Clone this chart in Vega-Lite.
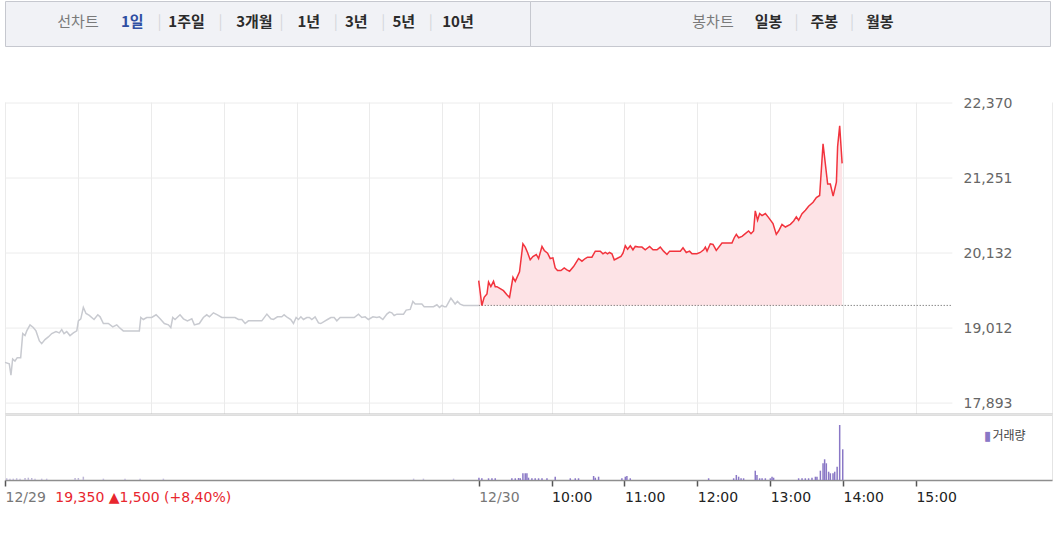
{
  "$schema": "https://vega.github.io/schema/vega-lite/v6.json",
  "padding": {"left": 2, "top": 0, "right": 0, "bottom": 0},
  "background": "white",
  "config": {"view": {"stroke": null}, "font": "DejaVu Sans"},
  "datasets": {
    "tabsL": [
      {"tab": "선차트", "text": "선차트", "kind": "title"},
      {"tab": "1일", "text": "1일", "kind": "active"},
      {"tab": "|a", "text": "|", "kind": "sep"},
      {"tab": "1주일", "text": "1주일", "kind": "tab"},
      {"tab": "|b", "text": "|", "kind": "sep"},
      {"tab": "3개월", "text": "3개월", "kind": "tab"},
      {"tab": "|c", "text": "|", "kind": "sep"},
      {"tab": "1년", "text": "1년", "kind": "tab"},
      {"tab": "|d", "text": "|", "kind": "sep"},
      {"tab": "3년", "text": "3년", "kind": "tab"},
      {"tab": "|e", "text": "|", "kind": "sep"},
      {"tab": "5년", "text": "5년", "kind": "tab"},
      {"tab": "|f", "text": "|", "kind": "sep"},
      {"tab": "10년", "text": "10년", "kind": "tab"}
    ],
    "tabsR": [
      {"tab": "봉차트", "text": "봉차트", "kind": "title"},
      {"tab": "일봉", "text": "일봉", "kind": "tab"},
      {"tab": "|g", "text": "|", "kind": "sep"},
      {"tab": "주봉", "text": "주봉", "kind": "tab"},
      {"tab": "|h", "text": "|", "kind": "sep"},
      {"tab": "월봉", "text": "월봉", "kind": "tab"}
    ],
    "levels": [{"level": 17893}, {"level": 19012}, {"level": 20132}, {"level": 21251}, {"level": 22370}],
    "price": [
      {"day": "12/29", "m": 0, "price": 18500}, {"day": "12/29", "m": 3.5, "price": 18480}, {"day": "12/29", "m": 4.9, "price": 18310}, {"day": "12/29", "m": 6.3, "price": 18550}, {"day": "12/29", "m": 8.2, "price": 18520}, {"day": "12/29", "m": 10.1, "price": 18570}, {"day": "12/29", "m": 12.9, "price": 18570}, {"day": "12/29", "m": 14.6, "price": 18930}, {"day": "12/29", "m": 16.5, "price": 18900}, {"day": "12/29", "m": 17.9, "price": 18970}, {"day": "12/29", "m": 20.6, "price": 19060}, {"day": "12/29", "m": 23.3, "price": 19020}, {"day": "12/29", "m": 25.5, "price": 18970}, {"day": "12/29", "m": 28.3, "price": 18820}, {"day": "12/29", "m": 30.2, "price": 18780}, {"day": "12/29", "m": 32.9, "price": 18840}, {"day": "12/29", "m": 35.7, "price": 18880}, {"day": "12/29", "m": 38.5, "price": 18930}, {"day": "12/29", "m": 42.0, "price": 18960}, {"day": "12/29", "m": 44.7, "price": 18940}, {"day": "12/29", "m": 46.7, "price": 18990}, {"day": "12/29", "m": 48.6, "price": 18930}, {"day": "12/29", "m": 50.8, "price": 18960}, {"day": "12/29", "m": 53.5, "price": 18900}, {"day": "12/29", "m": 56.3, "price": 18940}, {"day": "12/29", "m": 59.1, "price": 18970}, {"day": "12/29", "m": 60.4, "price": 19120}, {"day": "12/29", "m": 62.4, "price": 19150}, {"day": "12/29", "m": 64.5, "price": 19320}, {"day": "12/29", "m": 66.7, "price": 19230}, {"day": "12/29", "m": 69.4, "price": 19200}, {"day": "12/29", "m": 73.3, "price": 19140}, {"day": "12/29", "m": 76.4, "price": 19210}, {"day": "12/29", "m": 78.3, "price": 19180}, {"day": "12/29", "m": 81.0, "price": 19080}, {"day": "12/29", "m": 85.1, "price": 19080}, {"day": "12/29", "m": 88.7, "price": 19030}, {"day": "12/29", "m": 92.0, "price": 19060}, {"day": "12/29", "m": 94.1, "price": 19020}, {"day": "12/29", "m": 97.4, "price": 18970}, {"day": "12/29", "m": 110.6, "price": 18970}, {"day": "12/29", "m": 111.8, "price": 19170}, {"day": "12/29", "m": 113.9, "price": 19140}, {"day": "12/29", "m": 116.7, "price": 19170}, {"day": "12/29", "m": 120.8, "price": 19170}, {"day": "12/29", "m": 124.4, "price": 19210}, {"day": "12/29", "m": 127.7, "price": 19150}, {"day": "12/29", "m": 131.2, "price": 19080}, {"day": "12/29", "m": 134.5, "price": 19060}, {"day": "12/29", "m": 136.5, "price": 19020}, {"day": "12/29", "m": 138.1, "price": 19170}, {"day": "12/29", "m": 140.0, "price": 19140}, {"day": "12/29", "m": 144.1, "price": 19210}, {"day": "12/29", "m": 146.9, "price": 19150}, {"day": "12/29", "m": 150.2, "price": 19120}, {"day": "12/29", "m": 153.8, "price": 19150}, {"day": "12/29", "m": 155.9, "price": 19060}, {"day": "12/29", "m": 160.0, "price": 19080}, {"day": "12/29", "m": 163.3, "price": 19170}, {"day": "12/29", "m": 166.1, "price": 19210}, {"day": "12/29", "m": 168.3, "price": 19180}, {"day": "12/29", "m": 171.6, "price": 19240}, {"day": "12/29", "m": 174.9, "price": 19210}, {"day": "12/29", "m": 178.5, "price": 19170}, {"day": "12/29", "m": 189.4, "price": 19170}, {"day": "12/29", "m": 192.2, "price": 19140}, {"day": "12/29", "m": 195.0, "price": 19140}, {"day": "12/29", "m": 197.7, "price": 19080}, {"day": "12/29", "m": 200.4, "price": 19120}, {"day": "12/29", "m": 211.4, "price": 19120}, {"day": "12/29", "m": 215.6, "price": 19220}, {"day": "12/29", "m": 218.9, "price": 19150}, {"day": "12/29", "m": 221.0, "price": 19140}, {"day": "12/29", "m": 224.3, "price": 19180}, {"day": "12/29", "m": 227.9, "price": 19180}, {"day": "12/29", "m": 229.8, "price": 19210}, {"day": "12/29", "m": 232.5, "price": 19170}, {"day": "12/29", "m": 235.3, "price": 19140}, {"day": "12/29", "m": 237.5, "price": 19080}, {"day": "12/29", "m": 239.7, "price": 19170}, {"day": "12/29", "m": 241.6, "price": 19140}, {"day": "12/29", "m": 243.6, "price": 19180}, {"day": "12/29", "m": 245.7, "price": 19140}, {"day": "12/29", "m": 248.5, "price": 19170}, {"day": "12/29", "m": 250.6, "price": 19170}, {"day": "12/29", "m": 252.6, "price": 19140}, {"day": "12/29", "m": 255.3, "price": 19180}, {"day": "12/29", "m": 258.1, "price": 19090}, {"day": "12/29", "m": 260.0, "price": 19080}, {"day": "12/29", "m": 263.6, "price": 19120}, {"day": "12/29", "m": 265.5, "price": 19140}, {"day": "12/29", "m": 268.3, "price": 19170}, {"day": "12/29", "m": 271.0, "price": 19170}, {"day": "12/29", "m": 273.2, "price": 19120}, {"day": "12/29", "m": 275.9, "price": 19170}, {"day": "12/29", "m": 281.9, "price": 19170}, {"day": "12/29", "m": 287.5, "price": 19170}, {"day": "12/29", "m": 291.0, "price": 19220}, {"day": "12/29", "m": 293.8, "price": 19170}, {"day": "12/29", "m": 296.5, "price": 19180}, {"day": "12/29", "m": 299.2, "price": 19140}, {"day": "12/29", "m": 302.9, "price": 19180}, {"day": "12/29", "m": 306.2, "price": 19170}, {"day": "12/29", "m": 308.3, "price": 19180}, {"day": "12/29", "m": 311.1, "price": 19140}, {"day": "12/29", "m": 314.4, "price": 19220}, {"day": "12/29", "m": 316.5, "price": 19250}, {"day": "12/29", "m": 318.5, "price": 19240}, {"day": "12/29", "m": 320.4, "price": 19200}, {"day": "12/29", "m": 322.6, "price": 19220}, {"day": "12/29", "m": 328.1, "price": 19220}, {"day": "12/29", "m": 330.3, "price": 19280}, {"day": "12/29", "m": 333.6, "price": 19290}, {"day": "12/29", "m": 335.8, "price": 19410}, {"day": "12/29", "m": 337.7, "price": 19370}, {"day": "12/29", "m": 343.2, "price": 19370}, {"day": "12/29", "m": 345.1, "price": 19330}, {"day": "12/29", "m": 352.8, "price": 19330}, {"day": "12/29", "m": 355.6, "price": 19360}, {"day": "12/29", "m": 357.7, "price": 19320}, {"day": "12/29", "m": 359.7, "price": 19350}, {"day": "12/29", "m": 361.6, "price": 19330}, {"day": "12/29", "m": 363.2, "price": 19330}, {"day": "12/29", "m": 367.1, "price": 19460}, {"day": "12/29", "m": 368.7, "price": 19420}, {"day": "12/29", "m": 370.6, "price": 19370}, {"day": "12/29", "m": 372.5, "price": 19410}, {"day": "12/29", "m": 374.7, "price": 19370}, {"day": "12/29", "m": 377.5, "price": 19350}, {"day": "12/29", "m": 390, "price": 19350},
      {"day": "12/30", "m": 390, "price": 19720}, {"day": "12/30", "m": 392.6, "price": 19350}, {"day": "12/30", "m": 394.5, "price": 19470}, {"day": "12/30", "m": 396.8, "price": 19520}, {"day": "12/30", "m": 398.1, "price": 19700}, {"day": "12/30", "m": 400.0, "price": 19630}, {"day": "12/30", "m": 402.2, "price": 19710}, {"day": "12/30", "m": 403.6, "price": 19630}, {"day": "12/30", "m": 405.0, "price": 19630}, {"day": "12/30", "m": 407.7, "price": 19600}, {"day": "12/30", "m": 410.4, "price": 19570}, {"day": "12/30", "m": 413.2, "price": 19510}, {"day": "12/30", "m": 415.4, "price": 19470}, {"day": "12/30", "m": 418.2, "price": 19770}, {"day": "12/30", "m": 420.1, "price": 19710}, {"day": "12/30", "m": 423.6, "price": 19850}, {"day": "12/30", "m": 426.4, "price": 20270}, {"day": "12/30", "m": 428.3, "price": 20220}, {"day": "12/30", "m": 430.2, "price": 20140}, {"day": "12/30", "m": 432.4, "price": 20030}, {"day": "12/30", "m": 434.6, "price": 20080}, {"day": "12/30", "m": 437.4, "price": 20110}, {"day": "12/30", "m": 439.3, "price": 20050}, {"day": "12/30", "m": 442.1, "price": 20230}, {"day": "12/30", "m": 444.0, "price": 20170}, {"day": "12/30", "m": 446.7, "price": 20130}, {"day": "12/30", "m": 448.9, "price": 20050}, {"day": "12/30", "m": 451.1, "price": 20060}, {"day": "12/30", "m": 453.0, "price": 19910}, {"day": "12/30", "m": 454.9, "price": 19870}, {"day": "12/30", "m": 457.7, "price": 19870}, {"day": "12/30", "m": 460.4, "price": 19910}, {"day": "12/30", "m": 462.6, "price": 19880}, {"day": "12/30", "m": 464.8, "price": 19860}, {"day": "12/30", "m": 468.1, "price": 19930}, {"day": "12/30", "m": 472.2, "price": 20050}, {"day": "12/30", "m": 475.0, "price": 20010}, {"day": "12/30", "m": 477.7, "price": 20050}, {"day": "12/30", "m": 479.6, "price": 20070}, {"day": "12/30", "m": 483.2, "price": 20070}, {"day": "12/30", "m": 486.0, "price": 20160}, {"day": "12/30", "m": 490.1, "price": 20160}, {"day": "12/30", "m": 492.3, "price": 20120}, {"day": "12/30", "m": 494.2, "price": 20140}, {"day": "12/30", "m": 496.1, "price": 20120}, {"day": "12/30", "m": 497.7, "price": 20140}, {"day": "12/30", "m": 499.7, "price": 20120}, {"day": "12/30", "m": 501.6, "price": 20030}, {"day": "12/30", "m": 503.8, "price": 20050}, {"day": "12/30", "m": 507.1, "price": 20080}, {"day": "12/30", "m": 508.8, "price": 20130}, {"day": "12/30", "m": 510.7, "price": 20240}, {"day": "12/30", "m": 512.6, "price": 20190}, {"day": "12/30", "m": 514.8, "price": 20240}, {"day": "12/30", "m": 517.0, "price": 20180}, {"day": "12/30", "m": 518.9, "price": 20230}, {"day": "12/30", "m": 521.6, "price": 20220}, {"day": "12/30", "m": 524.4, "price": 20220}, {"day": "12/30", "m": 527.1, "price": 20180}, {"day": "12/30", "m": 530.7, "price": 20230}, {"day": "12/30", "m": 533.5, "price": 20180}, {"day": "12/30", "m": 536.8, "price": 20180}, {"day": "12/30", "m": 539.5, "price": 20220}, {"day": "12/30", "m": 542.2, "price": 20160}, {"day": "12/30", "m": 545.0, "price": 20110}, {"day": "12/30", "m": 547.2, "price": 20160}, {"day": "12/30", "m": 556.0, "price": 20160}, {"day": "12/30", "m": 558.2, "price": 20210}, {"day": "12/30", "m": 560.9, "price": 20140}, {"day": "12/30", "m": 563.6, "price": 20160}, {"day": "12/30", "m": 565.6, "price": 20120}, {"day": "12/30", "m": 569.7, "price": 20120}, {"day": "12/30", "m": 572.4, "price": 20140}, {"day": "12/30", "m": 575.2, "price": 20180}, {"day": "12/30", "m": 576.6, "price": 20220}, {"day": "12/30", "m": 578.0, "price": 20160}, {"day": "12/30", "m": 580.7, "price": 20270}, {"day": "12/30", "m": 582.9, "price": 20260}, {"day": "12/30", "m": 585.6, "price": 20170}, {"day": "12/30", "m": 590.3, "price": 20280}, {"day": "12/30", "m": 598.5, "price": 20280}, {"day": "12/30", "m": 600.4, "price": 20360}, {"day": "12/30", "m": 602.1, "price": 20410}, {"day": "12/30", "m": 604.0, "price": 20360}, {"day": "12/30", "m": 606.8, "price": 20380}, {"day": "12/30", "m": 609.5, "price": 20420}, {"day": "12/30", "m": 612.2, "price": 20460}, {"day": "12/30", "m": 614.2, "price": 20420}, {"day": "12/30", "m": 616.3, "price": 20460}, {"day": "12/30", "m": 617.7, "price": 20760}, {"day": "12/30", "m": 619.6, "price": 20620}, {"day": "12/30", "m": 621.3, "price": 20720}, {"day": "12/30", "m": 623.3, "price": 20690}, {"day": "12/30", "m": 626.0, "price": 20720}, {"day": "12/30", "m": 628.7, "price": 20660}, {"day": "12/30", "m": 632.3, "price": 20570}, {"day": "12/30", "m": 635.0, "price": 20410}, {"day": "12/30", "m": 636.9, "price": 20460}, {"day": "12/30", "m": 639.7, "price": 20560}, {"day": "12/30", "m": 642.5, "price": 20520}, {"day": "12/30", "m": 646.6, "price": 20560}, {"day": "12/30", "m": 649.3, "price": 20610}, {"day": "12/30", "m": 651.5, "price": 20670}, {"day": "12/30", "m": 653.4, "price": 20620}, {"day": "12/30", "m": 656.2, "price": 20720}, {"day": "12/30", "m": 659.0, "price": 20770}, {"day": "12/30", "m": 661.6, "price": 20830}, {"day": "12/30", "m": 665.3, "price": 20890}, {"day": "12/30", "m": 668.0, "price": 20960}, {"day": "12/30", "m": 670.7, "price": 20990}, {"day": "12/30", "m": 673.5, "price": 21760}, {"day": "12/30", "m": 677.3, "price": 21160}, {"day": "12/30", "m": 679.5, "price": 21160}, {"day": "12/30", "m": 681.8, "price": 20980}, {"day": "12/30", "m": 684.5, "price": 21190}, {"day": "12/30", "m": 685.5, "price": 21720}, {"day": "12/30", "m": 687.2, "price": 22030}, {"day": "12/30", "m": 689.2, "price": 21470}
    ],
    "volume": [
      {"day": "12/29", "m": 1.4, "vol": 1700}, {"day": "12/29", "m": 4.1, "vol": 1300}, {"day": "12/29", "m": 6.8, "vol": 1300}, {"day": "12/29", "m": 9.6, "vol": 1700}, {"day": "12/29", "m": 12.4, "vol": 1300}, {"day": "12/29", "m": 16.5, "vol": 2000}, {"day": "12/29", "m": 19.2, "vol": 2300}, {"day": "12/29", "m": 22.0, "vol": 2000}, {"day": "12/29", "m": 24.7, "vol": 1300}, {"day": "12/29", "m": 30.2, "vol": 1300}, {"day": "12/29", "m": 34.3, "vol": 1300}, {"day": "12/29", "m": 57.7, "vol": 2000}, {"day": "12/29", "m": 60.4, "vol": 2000}, {"day": "12/29", "m": 64.5, "vol": 3300}, {"day": "12/29", "m": 81.0, "vol": 1300}, {"day": "12/29", "m": 98.8, "vol": 1300}, {"day": "12/29", "m": 111.2, "vol": 1300}, {"day": "12/29", "m": 130.4, "vol": 1300}, {"day": "12/29", "m": 336.4, "vol": 1300}, {"day": "12/29", "m": 344.5, "vol": 1300}, {"day": "12/29", "m": 369.3, "vol": 1300},
      {"day": "12/30", "m": 390.2, "vol": 2300}, {"day": "12/30", "m": 392.6, "vol": 1700}, {"day": "12/30", "m": 398.1, "vol": 1700}, {"day": "12/30", "m": 400.9, "vol": 1700}, {"day": "12/30", "m": 403.6, "vol": 1700}, {"day": "12/30", "m": 417.3, "vol": 1700}, {"day": "12/30", "m": 420.1, "vol": 1700}, {"day": "12/30", "m": 422.8, "vol": 2000}, {"day": "12/30", "m": 424.2, "vol": 1700}, {"day": "12/30", "m": 426.4, "vol": 6700}, {"day": "12/30", "m": 428.3, "vol": 6700}, {"day": "12/30", "m": 429.7, "vol": 6700}, {"day": "12/30", "m": 431.0, "vol": 2300}, {"day": "12/30", "m": 433.8, "vol": 1700}, {"day": "12/30", "m": 436.5, "vol": 1700}, {"day": "12/30", "m": 439.3, "vol": 1700}, {"day": "12/30", "m": 442.1, "vol": 1700}, {"day": "12/30", "m": 446.2, "vol": 1700}, {"day": "12/30", "m": 453.0, "vol": 3300}, {"day": "12/30", "m": 465.4, "vol": 1700}, {"day": "12/30", "m": 469.5, "vol": 1700}, {"day": "12/30", "m": 472.2, "vol": 1700}, {"day": "12/30", "m": 484.6, "vol": 4000}, {"day": "12/30", "m": 486.0, "vol": 2300}, {"day": "12/30", "m": 488.7, "vol": 3300}, {"day": "12/30", "m": 507.9, "vol": 1700}, {"day": "12/30", "m": 510.7, "vol": 3300}, {"day": "12/30", "m": 512.0, "vol": 4000}, {"day": "12/30", "m": 514.8, "vol": 1700}, {"day": "12/30", "m": 579.3, "vol": 1700}, {"day": "12/30", "m": 599.9, "vol": 1700}, {"day": "12/30", "m": 602.1, "vol": 5000}, {"day": "12/30", "m": 604.0, "vol": 3300}, {"day": "12/30", "m": 606.0, "vol": 1700}, {"day": "12/30", "m": 608.1, "vol": 1700}, {"day": "12/30", "m": 617.7, "vol": 9300}, {"day": "12/30", "m": 619.1, "vol": 5000}, {"day": "12/30", "m": 621.3, "vol": 1700}, {"day": "12/30", "m": 623.3, "vol": 1700}, {"day": "12/30", "m": 626.0, "vol": 1700}, {"day": "12/30", "m": 630.1, "vol": 1700}, {"day": "12/30", "m": 631.5, "vol": 3300}, {"day": "12/30", "m": 632.8, "vol": 2300}, {"day": "12/30", "m": 653.4, "vol": 1700}, {"day": "12/30", "m": 656.2, "vol": 1700}, {"day": "12/30", "m": 658.9, "vol": 1700}, {"day": "12/30", "m": 661.6, "vol": 1700}, {"day": "12/30", "m": 664.4, "vol": 2300}, {"day": "12/30", "m": 667.2, "vol": 3300}, {"day": "12/30", "m": 668.5, "vol": 3300}, {"day": "12/30", "m": 671.3, "vol": 9300}, {"day": "12/30", "m": 673.5, "vol": 16700}, {"day": "12/30", "m": 674.8, "vol": 20700}, {"day": "12/30", "m": 676.2, "vol": 16700}, {"day": "12/30", "m": 678.1, "vol": 8300}, {"day": "12/30", "m": 679.5, "vol": 6700}, {"day": "12/30", "m": 681.7, "vol": 6700}, {"day": "12/30", "m": 683.1, "vol": 8300}, {"day": "12/30", "m": 685.1, "vol": 13300}, {"day": "12/30", "m": 687.2, "vol": 55000}, {"day": "12/30", "m": 689.7, "vol": 30700}
    ],
    "legend": [{"label": "거래량"}]
  },
  "spacing": 49,
  "resolve": {"scale": {"x": "independent", "y": "independent", "color": "independent"}},
  "vconcat": [
    {
      "spacing": 0,
      "bounds": "flush",
      "resolve": {"scale": {"x": "independent", "color": "independent"}},
      "hconcat": [
        {
          "width": 525,
          "height": 45,
          "view": {"fill": "#f1f2f6", "stroke": "#c6c8cf"},
          "data": {"name": "tabsL"},
          "encoding": {
            "x": {"field": "tab", "type": "nominal", "scale": {"type": "point", "padding": 0.685, "align": 0.555, "domain": ["_a0", "_a1", "_a2", "_a3", "_a4", "_a5", "_a6", "_a7", "_a8", "_a9", "선차트", "_s1", "_s2", "_s3", "_s4", "_s5", "_s6", "_s7", "1일", "_s9", "_s10", "_s11", "|a", "_s13", "_s14", "_s15", "1주일", "_s17", "_s18", "_s19", "_s20", "|b", "_s22", "_s23", "_s24", "_s25", "3개월", "_s27", "_s28", "_s29", "|c", "_s31", "_s32", "_s33", "1년", "_s35", "_s36", "_s37", "|d", "_s39", "_s40", "3년", "_s42", "_s43", "_s44", "|e", "_s46", "_s47", "5년", "_s49", "_s50", "_s51", "|f", "_s53", "_s54", "_s55", "10년", "_z0", "_z1", "_z2", "_z3", "_z4", "_z5", "_z6", "_z7", "_z8", "_z9"]}, "axis": null},
            "text": {"field": "text"},
            "color": {"field": "kind", "type": "nominal", "scale": {"domain": ["title", "active", "tab", "sep"], "range": ["#7a7a7a", "#2f4ea2", "#2b2b2b", "#d4d6db"]}, "legend": null}
          },
          "layer": [
            {
              "transform": [{"filter": "datum.kind == 'title' || datum.kind == 'sep'"}],
              "mark": {"type": "text", "font": "Noto Sans CJK KR", "fontSize": 15, "dy": -2}
            },
            {
              "transform": [{"filter": "datum.kind == 'active' || datum.kind == 'tab'"}],
              "mark": {"type": "text", "font": "Noto Sans CJK KR", "fontSize": 15, "fontWeight": "bold", "dy": -2}
            }
          ]
        },
        {
          "width": 520,
          "height": 45,
          "view": {"fill": "#f1f2f6", "stroke": "#c6c8cf"},
          "data": {"name": "tabsR"},
          "encoding": {
            "x": {"field": "tab", "type": "nominal", "scale": {"type": "point", "padding": 0.35, "align": 0.83, "domain": ["_a1", "_a2", "_a3", "_a4", "_a5", "_a6", "봉차트", "_gap", "일봉", "|g", "주봉", "|h", "월봉", "_b1", "_b2", "_b3", "_b4", "_b5", "_b6"]}, "axis": null},
            "text": {"field": "text"},
            "color": {"field": "kind", "type": "nominal", "scale": {"domain": ["title", "active", "tab", "sep"], "range": ["#7a7a7a", "#2f4ea2", "#2b2b2b", "#d4d6db"]}, "legend": null}
          },
          "layer": [
            {
              "transform": [{"filter": "datum.kind == 'title' || datum.kind == 'sep'"}],
              "mark": {"type": "text", "font": "Noto Sans CJK KR", "fontSize": 15, "dy": -2}
            },
            {
              "transform": [{"filter": "datum.kind == 'tab'"}],
              "mark": {"type": "text", "font": "Noto Sans CJK KR", "fontSize": 15, "fontWeight": "bold", "dy": -2}
            }
          ]
        }
      ]
    },
    {
      "spacing": 0,
      "bounds": "flush",
      "resolve": {"scale": {"y": "independent"}},
      "vconcat": [
        {
          "width": 1047,
          "height": 312,
          "layer": [
            {
              "data": {"name": "levels"},
              "mark": {"type": "rule", "color": "#ececec", "strokeWidth": 1},
              "encoding": {
                "x": {"datum": 0, "type": "quantitative", "scale": {"domain": [0, 862], "nice": false, "zero": false}},
                "x2": {"datum": 780},
                "y": {"field": "level", "type": "quantitative", "scale": {"domain": [17730, 22385], "nice": false, "zero": false}}
              }
            },
            {
              "data": {"name": "price"},
              "transform": [{"filter": "datum.day == '12/30'"}],
              "mark": {"type": "area", "color": "#fde3e6", "opacity": 1},
              "encoding": {
                "x": {"field": "m", "type": "quantitative", "scale": {"domain": [0, 862], "nice": false, "zero": false}},
                "y": {"field": "price", "type": "quantitative", "scale": {"domain": [17730, 22385], "nice": false, "zero": false}},
                "y2": {"datum": 19350}
              }
            },
            {
              "data": {"values": [{}]},
              "mark": {"type": "rule", "color": "#555555", "strokeDash": [1, 2], "strokeWidth": 1},
              "encoding": {
                "x": {"datum": 390, "type": "quantitative"},
                "x2": {"datum": 780},
                "y": {"datum": 19350, "type": "quantitative"}
              }
            },
            {
              "data": {"name": "price"},
              "transform": [{"filter": "datum.day == '12/29'"}],
              "mark": {"type": "line", "color": "#c8cad0", "strokeWidth": 1.5},
              "encoding": {
                "x": {
                  "field": "m", "type": "quantitative",
                  "scale": {"domain": [0, 862], "nice": false, "zero": false},
                  "axis": {"orient": "bottom", "values": [0, 60, 120, 180, 240, 300, 360, 390, 450, 510, 570, 630, 690, 750, 862], "grid": true, "gridColor": "#ebebeb", "labels": false, "ticks": false, "domain": true, "domainColor": "#bdbdbd", "domainWidth": 2, "title": null}
                },
                "y": {
                  "field": "price", "type": "quantitative",
                  "scale": {"domain": [17730, 22385], "nice": false, "zero": false},
                  "axis": {"orient": "right", "offset": -89, "values": [17893, 19012, 20132, 21251, 22370], "labelExpr": "format(datum.value, ',.0f')", "labelColor": "#666666", "labelFont": "DejaVu Sans", "labelFontSize": 14, "labelPadding": 0, "labelAlign": "left", "domain": false, "ticks": false, "tickSize": 0, "grid": false, "title": null}
                }
              }
            },
            {
              "data": {"name": "price"},
              "transform": [{"filter": "datum.day == '12/30'"}],
              "mark": {"type": "line", "color": "#f2333d", "strokeWidth": 1.5},
              "encoding": {
                "x": {"field": "m", "type": "quantitative", "scale": {"domain": [0, 862], "nice": false, "zero": false}},
                "y": {"field": "price", "type": "quantitative", "scale": {"domain": [17730, 22385], "nice": false, "zero": false}}
              }
            }
          ]
        },
        {
          "width": 1047,
          "height": 66,
          "view": {"stroke": "#e4e4e4"},
          "layer": [
            {
              "data": {"name": "volume"},
              "transform": [{"filter": "datum.day == '12/30'"}],
              "mark": {"type": "rule", "strokeWidth": 1.5, "color": "#8a78c6"},
              "encoding": {
                "x": {
                  "field": "m", "type": "quantitative",
                  "scale": {"domain": [0, 862], "nice": false, "zero": false},
                  "axis": {
                    "orient": "bottom",
                    "values": [0, 41, 390, 450, 510, 570, 630, 690, 750],
                    "labelExpr": "datum.value == 0 ? '12/29' : datum.value == 41 ? '19,350 ▲1,500 (+8,40%)' : datum.value == 390 ? '12/30' : (floor((datum.value - 390) / 60) + 9) + ':00'",
                    "labelAlign": "left",
                    "labelBaseline": "top",
                    "labelPadding": 4,
                    "labelFont": "DejaVu Sans",
                    "labelFontSize": 14,
                    "labelColor": {"condition": [{"test": "datum.value == 41", "value": "#e8262e"}, {"test": "datum.value == 0 || datum.value == 390", "value": "#777777"}], "value": "#222222"},
                    "tickColor": {"condition": {"test": "datum.value == 41", "value": "transparent"}, "value": "#555555"},
                    "tickSize": 6,
                    "tickWidth": 1.5,
                    "domainColor": "#8e8e8e",
                    "domainWidth": 1.5,
                    "grid": false,
                    "title": null,
                    "labelOverlap": false,
                    "labelFlush": false,
                    "labelBound": false
                  }
                },
                "y": {"field": "vol", "type": "quantitative", "scale": {"domain": [0, 66000], "nice": false, "zero": true}, "axis": null},
                "y2": {"datum": 0}
              }
            },
            {
              "data": {"name": "volume"},
              "transform": [{"filter": "datum.day == '12/29'"}],
              "mark": {"type": "rule", "strokeWidth": 1.5, "color": "#bdb6d6"},
              "encoding": {
                "x": {"field": "m", "type": "quantitative", "scale": {"domain": [0, 862], "nice": false, "zero": false}},
                "y": {"field": "vol", "type": "quantitative", "scale": {"domain": [0, 66000], "nice": false, "zero": true}, "axis": null},
                "y2": {"datum": 0}
              }
            },
            {
              "data": {"name": "legend"},
              "mark": {"type": "text", "text": "▮", "font": "DejaVu Sans", "fontSize": 13, "color": "#8a78c6", "align": "left"},
              "encoding": {
                "x": {"datum": 806, "type": "quantitative"},
                "y": {"datum": 44000, "type": "quantitative", "axis": null}
              }
            },
            {
              "data": {"name": "legend"},
              "mark": {"type": "text", "font": "Noto Sans CJK KR", "fontSize": 12, "color": "#444444", "align": "left"},
              "encoding": {
                "x": {"datum": 813, "type": "quantitative"},
                "y": {"datum": 44000, "type": "quantitative", "axis": null},
                "text": {"field": "label"}
              }
            }
          ]
        }
      ]
    }
  ]
}
